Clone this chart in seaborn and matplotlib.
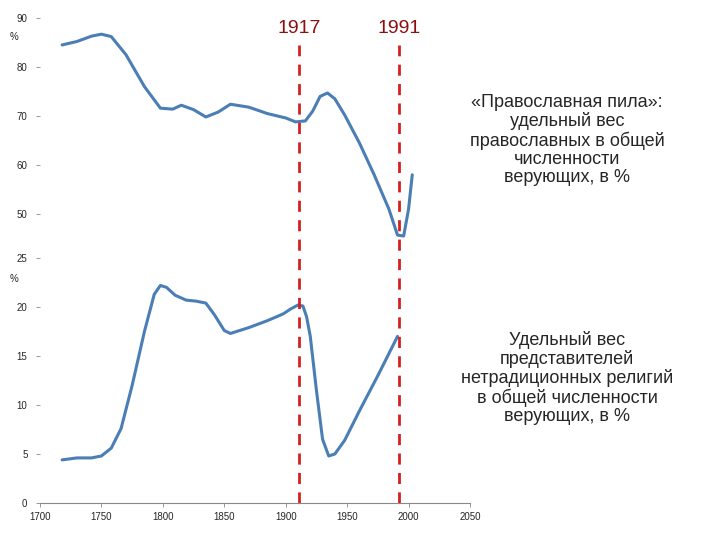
import matplotlib
matplotlib.use("Agg")
import matplotlib.pyplot as plt
import seaborn as sns

sns.set_style("white")
plt.rcParams['font.family'] = ['Liberation Sans', 'DejaVu Sans']

# top: share of orthodox believers, %
orth_years = [1718, 1730, 1742, 1750, 1758, 1770, 1785, 1798, 1808, 1815, 1825, 1835, 1845, 1855, 1870, 1885, 1900, 1908, 1916, 1922, 1928, 1934, 1940, 1948, 1960, 1972, 1984, 1991, 1996, 2000, 2003]
orth_vals = [84.5, 85.2, 86.3, 86.7, 86.2, 82.5, 76.0, 71.6, 71.4, 72.2, 71.3, 69.8, 70.8, 72.4, 71.8, 70.5, 69.6, 68.8, 69.0, 71.0, 74.0, 74.7, 73.5, 70.2, 64.5, 58.0, 51.0, 45.7, 45.5, 51.0, 58.0]
# bottom: share of non-traditional religions, %
nontr_years = [1718, 1730, 1742, 1750, 1758, 1766, 1775, 1785, 1793, 1798, 1803, 1810, 1819, 1827, 1835, 1842, 1850, 1855, 1870, 1885, 1898, 1904, 1910, 1914, 1917, 1920, 1925, 1930, 1935, 1940, 1948, 1960, 1975, 1991]
nontr_vals = [4.4, 4.6, 4.6, 4.8, 5.6, 7.6, 12.0, 17.5, 21.3, 22.2, 22.0, 21.2, 20.7, 20.6, 20.4, 19.2, 17.6, 17.3, 17.9, 18.6, 19.3, 19.8, 20.2, 20.1, 19.0, 17.0, 11.5, 6.5, 4.8, 5.0, 6.4, 9.4, 13.0, 17.0]
events = [1911, 1992]
event_labels = ["1917", "1991"]

blue = "#4a7eb5"
fig = plt.figure(figsize=(7.2, 5.4), dpi=100)
ax1 = fig.add_axes([40/720, 1-240/540, 430/720, 222/540])
ax2 = fig.add_axes([40/720, 1-503/540, 430/720, 245/540])

sns.lineplot(x=orth_years, y=orth_vals, ax=ax1, color=blue, lw=2.2)
sns.lineplot(x=nontr_years, y=nontr_vals, ax=ax2, color=blue, lw=2.2)

for ax in (ax1, ax2):
    ax.set_xlim(1700, 2050)
    for s in ax.spines.values():
        s.set_visible(False)
    ax.tick_params(axis='y', left=True, length=3, width=0.6, color='#888888',
                   labelsize=7, pad=6)

ax1.set_ylim(90 - 222/4.9, 90)
ax1.set_yticks([50, 60, 70, 80, 90])
ax1.set_xticks([])
ax1.text(-0.05, 0.9, "%", transform=ax1.transAxes, fontsize=7, ha='right')

ax2.set_ylim(0, 25)
ax2.set_yticks([0, 5, 10, 15, 20, 25])
ax2.set_xticks(range(1700, 2051, 50))
ax2.spines['bottom'].set_visible(True)
ax2.spines['bottom'].set_color('#888888')
ax2.tick_params(axis='x', bottom=True, length=3, width=0.6, color='#888888', labelsize=7)
ax2.text(-0.05, 0.9, "%", transform=ax2.transAxes, fontsize=7, ha='right')

for x, lab in zip(events, event_labels):
    ax2.plot([x, x], [0, 46.7], color='#d42020', ls=(0, (4, 3)), lw=2, clip_on=False)
    ax2.text(x, 47.5, lab, color='#8b1010', fontsize=14, ha='center', va='bottom', clip_on=False)

fig.text(567/720, 1-140/540,
         "«Православная пила»:\nудельный вес\nправославных в общей\nчисленности\nверующих, в %",
         ha='center', va='center', fontsize=13, linespacing=1.1)
fig.text(567/720, 1-378/540,
         "Удельный вес\nпредставителей\nнетрадиционных религий\nв общей численности\nверующих, в %",
         ha='center', va='center', fontsize=13, linespacing=1.1)

fig.savefig("out.png", dpi=100)
